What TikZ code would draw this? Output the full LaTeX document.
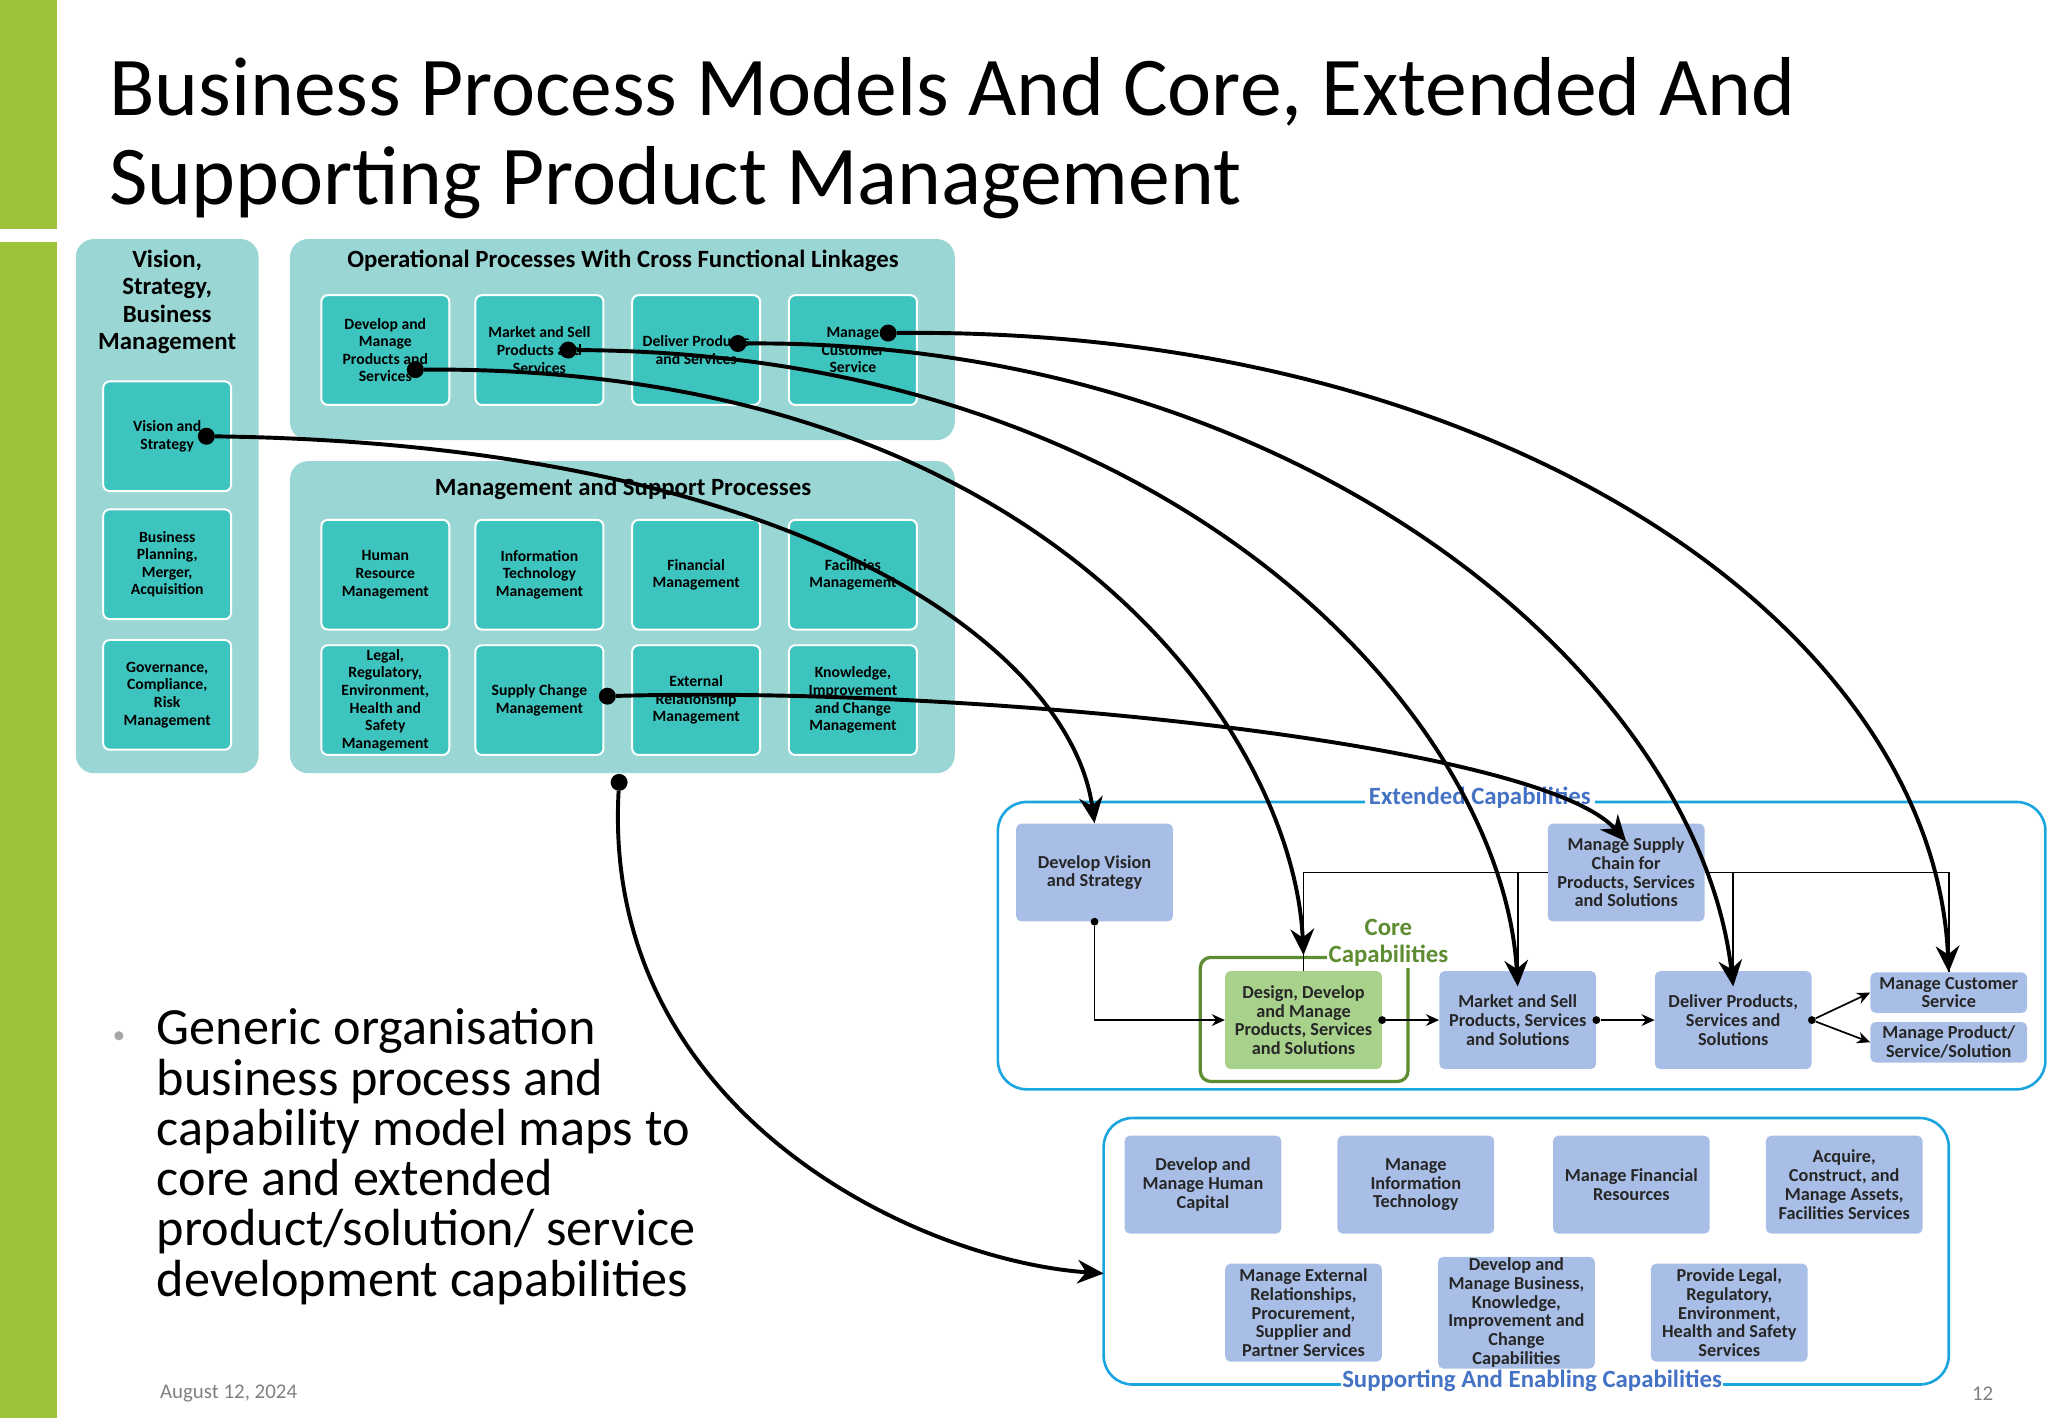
\documentclass[tikz,border=0pt]{standalone}
\usepackage{fontspec}
\setmainfont{Carlito}
\usetikzlibrary{positioning,arrows.meta,backgrounds}
\definecolor{barGreen}{HTML}{9DC33B}
\definecolor{panelTeal}{HTML}{9AD7D4}
\definecolor{boxTeal}{HTML}{3EC4BE}
\definecolor{boxBlue}{HTML}{A9BEE6}
\definecolor{frameBlue}{HTML}{1BA5DF}
\definecolor{coreGreen}{HTML}{A8D18C}
\definecolor{coreFrame}{HTML}{5E8C31}
\definecolor{labBlue}{HTML}{4472C4}
\tikzset{
  panel/.style={fill=panelTeal, rounded corners=14pt},
  tbox/.style={draw=white, line width=1.5pt, fill=boxTeal, rounded corners=5pt, minimum width=98pt, minimum height=84pt, inner sep=1pt, align=center, font=\fontsize{12}{13.5}\selectfont\bfseries},
  bbox/.style={fill=boxBlue, rounded corners=4pt, minimum width=120pt, minimum height=75pt, inner sep=1pt, align=center, font=\fontsize{14}{14.3}\selectfont\bfseries, text=black!85},
  sbox/.style={bbox, minimum height=31pt},
  frame/.style={draw=frameBlue, line width=2pt, rounded corners=22pt},
  link/.style={line width=3pt, -{Stealth[length=20pt,width=18pt]}},
  thin/.style={line width=1.3pt, -{Stealth[length=10pt,width=9pt]}},
  dot/.style={circle, fill=black, inner sep=0pt, minimum size=13pt},
  sdot/.style={circle, fill=black, inner sep=0pt, minimum size=6pt},
  ttl/.style={font=\fontsize{19}{21}\selectfont\bfseries},
}
\begin{document}
\begin{tikzpicture}[x=1pt,y=-1pt]
  \useasboundingbox (0,0) rectangle (1568,1086);
  % side bar
  \fill[barGreen] (0,0) rectangle (44,175);
  \fill[barGreen] (0,185) rectangle (44,1086);
  % title
  \node[anchor=west, align=left, font=\fontsize{64}{68}\selectfont] (title) at (80,106) {Business Process Models And Core, Extended And\\Supporting Product Management};

  % left panel
  \fill[panel] (58,183) rectangle (198,592);
  \node[ttl, align=center] (vsbm) at (128,231) {Vision,\\Strategy,\\Business\\Management};
  \node[tbox] (vs) at (128,334) {Vision and\\Strategy};
  \node[tbox] (bp) at (128,432) {Business\\Planning,\\Merger,\\Acquisition};
  \node[tbox] (gov) at (128,532) {Governance,\\Compliance,\\Risk\\Management};

  % operational panel
  \fill[panel] (222,183) rectangle (731,337);
  \node[ttl] (optitle) at (477,200) {Operational Processes With Cross Functional Linkages};
  \node[tbox] (op1) at (295,268) {Develop and\\Manage\\Products and\\Services};
  \node[tbox] (op2) at (413,268) {Market and Sell\\Products and\\Services};
  \node[tbox] (op3) at (533,268) {Deliver Products\\and Services};
  \node[tbox] (op4) at (653,268) {Manage\\Customer\\Service};

  % management panel
  \fill[panel] (222,353) rectangle (731,592);
  \node[ttl] (mgtitle) at (477,374) {Management and Support Processes};
  \node[tbox] (m1) at (295,440) {Human\\Resource\\Management};
  \node[tbox] (m2) at (413,440) {Information\\Technology\\Management};
  \node[tbox] (m3) at (533,440) {Financial\\Management};
  \node[tbox] (m4) at (653,440) {Facilities\\Management};
  \node[tbox] (m5) at (295,536) {Legal,\\Regulatory,\\Environment,\\Health and\\Safety\\Management};
  \node[tbox] (m6) at (413,536) {Supply Change\\Management};
  \node[tbox] (m7) at (533,536) {External\\Relationship\\Management};
  \node[tbox] (m8) at (653,536) {Knowledge,\\Improvement\\and Change\\Management};

  % extended capabilities
  \draw[frame] (764,614) rectangle (1566,834);
  \node[fill=white, text=labBlue, ttl] (extlab) at (1133,611) {Extended Capabilities};
  \node[bbox] (dv) at (838,668) {Develop Vision\\and Strategy};
  \node[bbox] (sc) at (1245,668) {Manage Supply\\Chain for\\Products, Services\\and Solutions};
  \draw[coreFrame, line width=2.5pt, rounded corners=8pt] (919,733) rectangle (1078,828);
  \node[fill=white, text=coreFrame, ttl, align=center, inner sep=1pt] (corelab) at (1063,722) {Core\\Capabilities};
  \node[bbox, fill=coreGreen] (design) at (998,781) {Design, Develop\\and Manage\\Products, Services\\and Solutions};
  \node[bbox] (ms) at (1162,781) {Market and Sell\\Products, Services\\and Solutions};
  \node[bbox] (dp) at (1327,781) {Deliver Products,\\Services and\\Solutions};
  \node[sbox] (mcs) at (1492,760) {Manage Customer\\Service};
  \node[sbox] (mps) at (1492,798) {Manage Product/\\Service/Solution};

  % supporting capabilities
  \draw[frame] (845,856) rectangle (1492,1060);
  \coordinate (supin) at (845,975);
  \node[fill=white, text=labBlue, ttl, inner sep=1pt] (suplab) at (1173,1057) {Supporting And Enabling Capabilities};
  \node[bbox] (s1) at (921,907) {Develop and\\Manage Human\\Capital};
  \node[bbox] (s2) at (1084,907) {Manage\\Information\\Technology};
  \node[bbox] (s3) at (1249,907) {Manage Financial\\Resources};
  \node[bbox] (s4) at (1412,907) {Acquire,\\Construct, and\\Manage Assets,\\Facilities Services};
  \node[bbox] (s5) at (998,1005) {Manage External\\Relationships,\\Procurement,\\Supplier and\\Partner Services};
  \node[bbox] (s6) at (1161,1005) {Develop and\\Manage Business,\\Knowledge,\\Improvement and\\Change\\Capabilities};
  \node[bbox] (s7) at (1324,1005) {Provide Legal,\\Regulatory,\\Environment,\\Health and Safety\\Services};

  % thin links
  \node[sdot] (dvd) at (dv.south) {};
  \draw[thin] (dvd) |- (design.west);
  \node[sdot] (dsd) at (design.east) {};
  \draw[thin] (dsd) -- (ms.west);
  \node[sdot] (msd) at (ms.east) {};
  \draw[thin] (msd) -- (dp.west);
  \node[sdot] (dpd) at (dp.east) {};
  \draw[thin] (dpd) -- (mcs.west);
  \draw[thin] (dpd) -- (mps.west);
  \coordinate (scl) at (998,668);
  \coordinate (scr) at (1492,668);
  \draw[line width=1.3pt] (sc.west) -- (scl) -- (design.north);
  \draw[line width=1.3pt] (sc.east) -- (scr) -- (mcs.north);
  \draw[line width=1.3pt] (1162,668) -- (ms.north);
  \draw[line width=1.3pt] (1327,668) -- (dp.north);

  % cross links
  \node[dot] (d1) at (158,334) {};
  \node[dot] (d2) at (318,283) {};
  \node[dot] (d3) at (435,268) {};
  \node[dot] (d4) at (565,263) {};
  \node[dot] (d5) at (680,255) {};
  \node[dot] (d6) at (465,533) {};
  \node[dot] (d7) at (474,599) {};
  \draw[link] (d1) .. controls (620,340) and (820,500) .. (dv.north);
  \draw[link] (d2) .. controls (800,280) and (990,560) .. ([yshift=12pt]design.north);
  \draw[link] (d3) .. controls (900,270) and (1150,550) .. ([yshift=-12pt]ms.north);
  \draw[link] (d4) .. controls (1000,260) and (1300,520) .. ([yshift=-12pt]dp.north);
  \draw[link] (d5) .. controls (1150,250) and (1480,480) .. (mcs.north);
  \draw[link] (d6) .. controls (750,525) and (1180,570) .. ([yshift=-14pt]sc.north);
  \draw[link] (d7) .. controls (460,850) and (700,965) .. (supin);

  % bullet text
  \node[circle, fill=gray!70, inner sep=0pt, minimum size=7pt] (bul) at (91,793) {};
  \node[anchor=north west, align=left, font=\fontsize{40}{38.5}\selectfont, inner sep=0pt] (bullet) at (120,772) {Generic organisation\\business process and\\capability model maps to\\core and extended\\product/solution/ service\\development capabilities};

  % footer
  \node[text=gray, font=\fontsize{16}{18}\selectfont] (date) at (175,1067) {August 12, 2024};
  \node[text=gray, font=\fontsize{16}{18}\selectfont] (page) at (1518,1067) {12};
\end{tikzpicture}
\end{document}
